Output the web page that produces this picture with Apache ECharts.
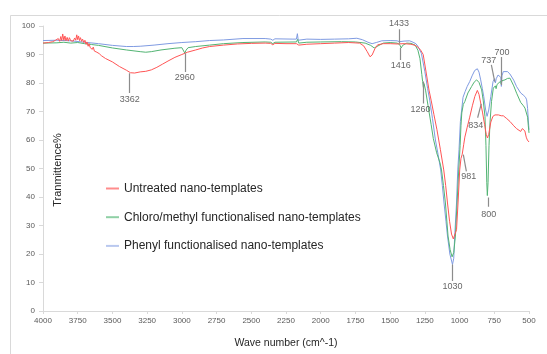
<!DOCTYPE html>
<html>
<head>
<meta charset="utf-8">
<script src="https://cdn.jsdelivr.net/npm/echarts@6/dist/echarts.min.js"></script>
<style>
html,body{margin:0;padding:0;background:#fff;}
#chart{width:547px;height:354px;}
</style>
</head>
<body>
<div id="chart"></div>
<script>
// ---- data ----
const seriesNames = ['Untreated nano-templates', 'Chloro/methyl functionalised nano-templates', 'Phenyl functionalised nano-templates'];

const untreated = [[4000,94.0],[3960,94.2],[3930,94.5],[3910,95.0],[3900,94.4],[3890,95.6],[3880,94.6],[3872,96.3],[3865,94.9],[3858,97.2],[3850,95.0],[3842,96.5],[3835,94.8],[3826,96.0],[3818,94.7],[3810,95.9],[3800,94.8],[3792,95.5],[3782,94.7],[3772,95.8],[3764,95.0],[3757,96.9],[3750,95.2],[3744,96.5],[3737,94.9],[3730,95.9],[3722,94.6],[3715,95.4],[3706,94.2],[3698,95.0],[3690,93.6],[3683,94.4],[3675,92.9],[3668,93.8],[3660,92.4],[3652,93.1],[3645,91.8],[3638,92.6],[3630,91.2],[3622,91.9],[3612,90.8],[3605,91.2],[3595,90.3],[3580,89.6],[3550,88.6],[3500,87.4],[3450,85.8],[3400,84.5],[3370,83.6],[3340,83.5],[3300,83.9],[3260,84.1],[3220,84.6],[3180,85.5],[3140,86.6],[3100,87.7],[3050,89.0],[3000,90.0],[2960,90.8],[2900,91.6],[2850,92.3],[2800,92.8],[2700,93.3],[2600,93.7],[2500,93.9],[2400,94.0],[2360,93.9],[2345,93.4],[2330,93.9],[2250,93.8],[2175,93.8],[2166,94.5],[2158,93.3],[2150,93.7],[2100,93.6],[2000,93.8],[1900,94.0],[1800,94.2],[1720,94.0],[1690,93.0],[1665,91.0],[1645,89.2],[1630,89.8],[1610,92.0],[1590,93.4],[1550,93.8],[1500,93.8],[1450,93.7],[1400,93.8],[1350,93.6],[1320,93.2],[1300,92.6],[1280,91.5],[1262,90.0],[1240,83.5],[1220,77.5],[1205,74.0],[1185,69.0],[1163,63.6],[1138,56.6],[1114,49.5],[1100,44.0],[1087,37.9],[1072,31.5],[1058,27.0],[1045,25.3],[1032,25.8],[1022,28.5],[1011,37.9],[999,49.5],[990,53.5],[981,55.0],[970,58.5],[962,61.0],[945,64.5],[927,68.0],[908,72.0],[890,75.3],[872,77.4],[860,76.0],[848,73.0],[834,69.5],[820,65.5],[808,62.0],[799,60.7],[790,62.0],[775,66.3],[760,68.3],[745,68.8],[720,68.8],[700,68.5],[685,68.5],[660,67.5],[637,66.5],[610,65.0],[590,64.0],[577,63.5],[560,63.0],[548,64.0],[540,64.5],[530,63.2],[520,61.0],[512,60.0],[505,59.5],[500,59.3]];

const chloroMethyl = [[4000,94.0],[3900,94.1],[3850,94.3],[3800,94.0],[3750,94.2],[3700,93.8],[3650,93.5],[3600,93.2],[3500,92.3],[3400,91.6],[3300,91.0],[3260,90.8],[3220,91.0],[3150,91.6],[3050,92.2],[3000,92.4],[2988,92.2],[2979,90.5],[2970,91.5],[2955,92.4],[2900,92.8],[2800,93.3],[2700,93.8],[2560,94.2],[2400,94.4],[2360,94.3],[2345,93.8],[2330,94.3],[2175,94.4],[2166,95.3],[2158,94.0],[2100,94.3],[2000,94.4],[1850,94.5],[1750,94.4],[1680,94.0],[1640,93.2],[1615,92.3],[1602,92.2],[1580,93.2],[1550,94.0],[1500,94.2],[1450,94.0],[1432,93.5],[1420,92.3],[1410,93.2],[1380,94.0],[1350,93.9],[1320,93.3],[1300,91.5],[1285,88.5],[1272,83.0],[1266,80.5],[1261,78.5],[1256,79.8],[1245,77.5],[1227,72.0],[1205,65.5],[1189,60.5],[1165,55.5],[1141,52.0],[1130,49.5],[1116,44.0],[1102,37.9],[1083,26.3],[1068,21.5],[1054,19.0],[1042,20.5],[1030,26.3],[1018,37.9],[1006,49.5],[996,58.0],[990,65.0],[984,69.5],[973,72.5],[962,73.5],[940,76.5],[913,78.8],[895,80.3],[877,81.1],[860,80.2],[841,77.6],[830,74.0],[817,68.3],[810,58.0],[804,45.0],[800,40.5],[795,45.0],[788,58.0],[781,66.0],[770,73.5],[757,78.2],[742,79.0],[737,78.0],[730,79.5],[721,80.0],[705,80.6],[700,79.6],[695,80.8],[673,81.1],[655,81.6],[637,81.7],[610,79.0],[589,76.4],[560,73.2],[540,72.0],[529,71.2],[520,70.5],[510,68.0],[505,65.0],[500,62.5]];

const phenyl = [[4000,94.9],[3900,95.0],[3800,94.8],[3700,94.3],[3600,93.8],[3500,93.2],[3400,92.8],[3350,92.8],[3300,92.9],[3200,93.3],[3100,93.8],[3000,94.2],[2900,94.5],[2800,94.9],[2700,95.1],[2560,95.6],[2400,95.6],[2360,95.4],[2345,95.0],[2330,95.5],[2200,95.4],[2175,95.4],[2168,97.3],[2162,95.0],[2150,95.6],[2100,95.4],[2000,95.3],[1900,95.4],[1800,95.5],[1740,95.7],[1700,95.2],[1660,94.3],[1630,93.8],[1600,94.2],[1560,94.8],[1500,94.9],[1450,94.8],[1433,94.5],[1400,94.7],[1360,94.8],[1335,94.3],[1315,93.8],[1299,92.8],[1275,90.4],[1250,84.0],[1230,78.0],[1215,74.0],[1195,67.5],[1174,60.0],[1155,55.0],[1136,49.5],[1124,44.0],[1112,37.9],[1098,31.5],[1087,26.3],[1070,20.0],[1051,16.3],[1042,18.5],[1035,26.3],[1022,37.9],[1013,49.5],[1004,56.6],[994,66.5],[985,70.5],[975,75.0],[960,77.0],[945,78.8],[927,80.5],[910,82.5],[891,84.4],[872,85.0],[860,83.8],[848,81.1],[836,78.0],[826,75.3],[812,70.5],[802,68.3],[790,70.5],[775,75.3],[759,80.5],[748,81.5],[742,80.0],[736,81.5],[723,82.8],[710,83.0],[703,82.0],[699,78.8],[695,82.5],[685,84.0],[674,84.4],[655,84.0],[638,83.2],[610,81.0],[590,78.8],[560,76.5],[542,75.8],[525,75.0],[517,74.1],[510,71.0],[505,67.0],[500,63.6]];

const xTickMin = 500, xTickMax = 4000, xTickStep = 250;
const yTickMin = 0, yTickMax = 100, yTickStep = 10;

// peak annotations (wave number, transmittance)
const peakTexts   = ['3362','2960','1433','1416','1260','981','834','800','1030','737','700'];
const peakLabelX  = [3376, 2979, 1436, 1424, 1282, 934, 884, 790, 1051, 790, 694];
const peakLabelY  = [74.1, 82.0, 100.7, 86.1, 70.7, 47.3, 65.1, 33.8, 8.5, 87.9, 90.8];
const leaderFrom  = [[3376,83.4],[2979,90.4],[1436,98.9],[1424,92.4],[1265,80.5],[973,54.9],[844,72.7],[792,39.8],[1051,16.3],[771,86.4],[700,89.1]];
const leaderTo    = [[3376,76.5],[2979,83.9],[1436,93.9],[1424,88.1],[1265,72.8],[951,49.0],[870,67.8],[792,36.6],[1051,10.5],[747,80.5],[700,79.3]];

// ---- chart ----
const colors = ['#ff5555', '#52b473', '#7f9be2'];
const legendColors = ['#ff8c8c', '#8fd0a5', '#b9c8ef'];
const chart = echarts.init(document.getElementById('chart'), null, {renderer: 'canvas'});
const font = '"Liberation Sans", Arial, sans-serif';

const lineSeries = [untreated, chloroMethyl, phenyl].map((d, i) => ({
  name: seriesNames[i],
  type: 'line',
  data: d,
  showSymbol: false,
  symbol: 'none',
  lineStyle: {color: colors[i], width: 1},
  itemStyle: {color: colors[i]},
  z: 3 - i + 2,
  silent: true,
  animation: false
}));

const option = {
  animation: false,
  backgroundColor: '#fff',
  textStyle: {fontFamily: font},
  grid: {left: 43, right: 18, top: 26, bottom: 42},
  graphic: [
    {type: 'rect', shape: {x: 10.5, y: 15.5, width: 560, height: 360}, style: {fill: 'none', stroke: '#d9d9d9', lineWidth: 1}, silent: true, z: -1},
    {type: 'text', x: 58, y: 170, rotation: Math.PI / 2,
     style: {text: 'Tranmittence%', fill: '#262626', font: '11px ' + font, textAlign: 'center', textVerticalAlign: 'middle'}}
  ],
  legend: {
    orient: 'vertical',
    left: 101,
    top: 177,
    icon: 'rect',
    itemWidth: 13,
    itemHeight: 2,
    itemGap: 15.7,
    textStyle: {fontSize: 12, color: '#262626', fontFamily: font, lineHeight: 13},
    data: seriesNames.map((n, i) => ({name: n, icon: 'rect', itemStyle: {color: legendColors[i]}}))
  },
  xAxis: {
    type: 'value',
    inverse: true,
    min: xTickMin, max: xTickMax, interval: xTickStep,
    name: 'Wave number (cm^-1)',
    nameLocation: 'middle',
    nameGap: 27,
    nameTextStyle: {fontSize: 10.5, color: '#262626', fontFamily: font},
    axisLine: {lineStyle: {color: '#d9d9d9', width: 1}},
    axisTick: {show: true, length: 3, lineStyle: {color: '#d9d9d9'}},
    axisLabel: {fontSize: 8, color: '#595959', margin: 6, fontFamily: font, formatter: v => String(v)},
    splitLine: {show: false}
  },
  yAxis: {
    type: 'value',
    min: yTickMin, max: yTickMax, interval: yTickStep,
    axisLine: {show: true, lineStyle: {color: '#d9d9d9', width: 1}},
    axisTick: {show: true, length: 4, lineStyle: {color: '#d9d9d9'}},
    axisLabel: {fontSize: 8, color: '#595959', margin: 8, fontFamily: font, formatter: v => String(v)},
    splitLine: {show: false}
  },
  series: lineSeries.concat([
    {
      type: 'lines',
      coordinateSystem: 'cartesian2d',
      silent: true,
      z: 10,
      lineStyle: {color: '#8c8c8c', width: 1.2, opacity: 1},
      data: leaderFrom.map((p, i) => ({coords: [p, leaderTo[i]]}))
    },
    {
      type: 'scatter',
      silent: true,
      clip: false,
      symbolSize: 0,
      z: 11,
      data: peakTexts.map((t, i) => ({value: [peakLabelX[i], peakLabelY[i]], name: t})),
      label: {show: true, position: 'inside', formatter: p => p.name, fontSize: 9, color: '#404040', fontFamily: font}
    }
  ])
};
chart.setOption(option);
</script>
</body>
</html>
